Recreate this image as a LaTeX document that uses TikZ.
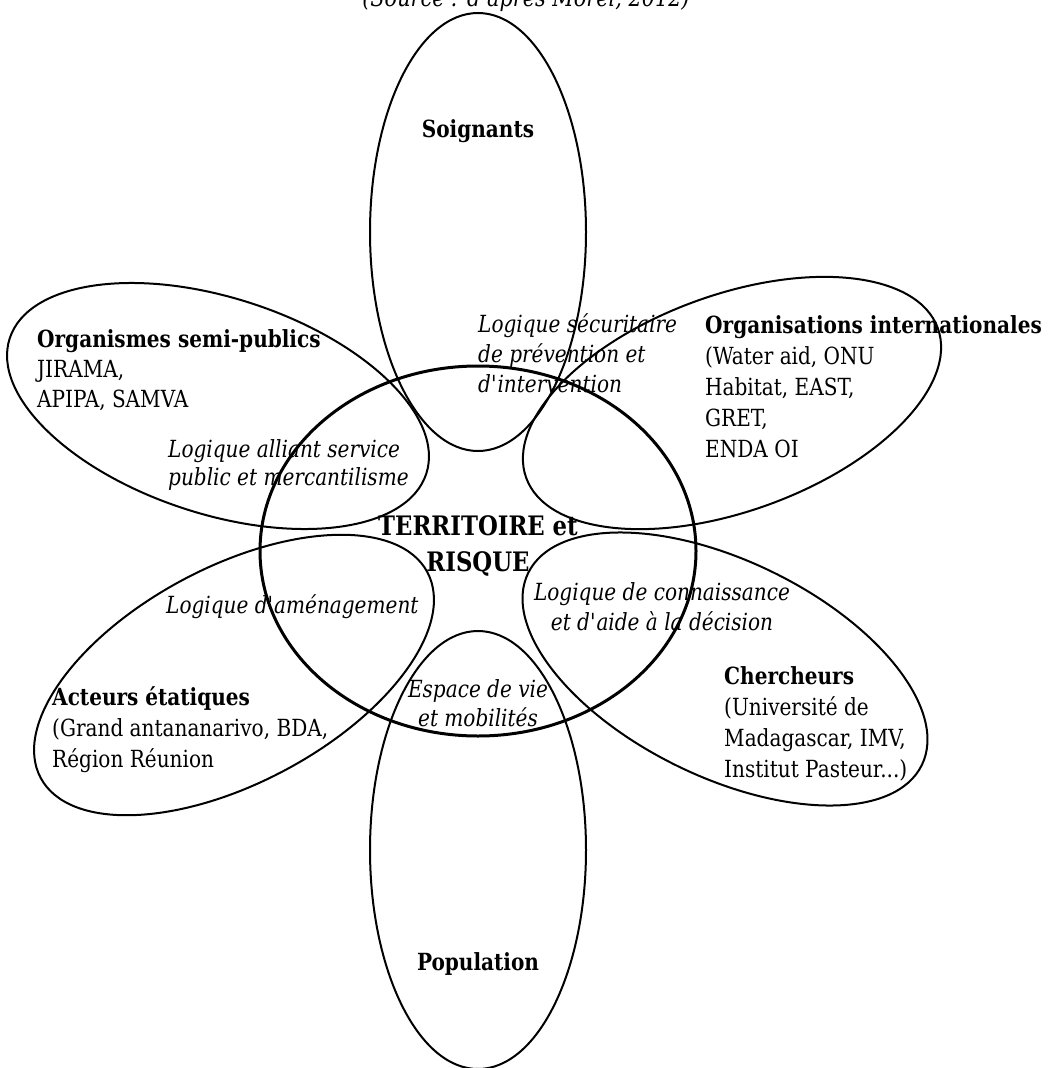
\documentclass[tikz,border=0pt]{standalone}
\usepackage{fontspec}
\setmainfont{DejaVu Serif}[FakeStretch=0.85]
\usetikzlibrary{shapes}
\newcommand{\ap}{\textquotesingle}
\tikzstyle{petal} = [draw, ellipse, line width=2pt, minimum width=438pt, minimum height=216pt, inner sep=0pt]
\tikzstyle{core} = [draw, ellipse, line width=3pt, minimum width=436pt, minimum height=370pt, inner sep=0pt]
\tikzstyle{actor} = [align=left, inner sep=0pt, anchor=base west, font=\fontsize{23.6}{31}\selectfont]
\tikzstyle{logic} = [align=left, inner sep=0pt, anchor=base west, font=\fontsize{23.6}{30}\selectfont\itshape]

\begin{document}
\begin{tikzpicture}[x=1pt, y=-1pt]
		\useasboundingbox (0,0) rectangle (1048,1068);
		\node [font=\fontsize{24.5}{26}\selectfont\itshape, anchor=base] (src) at (526,6) {(Source : d\ap après Morel, 2012)};
		
		% petals
		\node [petal, rotate=90] (soin) at (478,232) {};
		\node [petal, rotate=-18] (semi) at (218,406) {};
		\node [petal, rotate=20] (inter) at (732,403) {};
		\node [petal, rotate=28] (etat) at (234,675) {};
		\node [petal, rotate=-26] (cherch) at (725,669) {};
		\node [petal, rotate=90] (pop) at (478,850) {};
		\node [core] (terr) at (478,551) {};
		
		% actors (base = last line)
		\node [actor, anchor=base] (soin_t) at (478,137) {\textbf{Soignants}};
		\node [actor, font=\fontsize{23.6}{30}\selectfont] (semi_t) at (37,407) {\textbf{Organismes semi-publics}\\JIRAMA,\\APIPA, SAMVA};
		\node [actor] (inter_t) at (705,457) {\textbf{Organisations internationales}\\(Water aid, ONU\\Habitat, EAST,\\GRET,\\ENDA OI};
		\node [actor] (etat_t) at (52,767) {\textbf{Acteurs étatiques}\\(Grand antananarivo, BDA,\\Région Réunion};
		\node [actor] (cherch_t) at (724,777) {\textbf{Chercheurs}\\(Université de\\Madagascar, IMV,\\Institut Pasteur...)};
		\node [actor, anchor=base] (pop_t) at (478,970) {\textbf{Population}};
		\node [actor, align=center, anchor=base, font=\fontsize{26.8}{36}\selectfont\bfseries] (terr_t) at (478,571) {TERRITOIRE et\\RISQUE};
		
		% logics
		\node [logic] (secu) at (478,392) {Logique sécuritaire\\de prévention et\\d\ap intervention};
		\node [logic, font=\fontsize{23.6}{28}\selectfont\itshape] (merc) at (168,485) {Logique alliant service\\public et mercantilisme};
		\node [logic] (amen) at (166,613) {Logique d\ap aménagement};
		\node [logic, align=center, anchor=base] (conn) at (662,630) {Logique de connaissance\\et d\ap aide à la décision};
		\node [logic, align=center, anchor=base, font=\fontsize{23.6}{29}\selectfont\itshape] (vie) at (478,726) {Espace de vie\\et mobilités};
\end{tikzpicture}
\end{document}
